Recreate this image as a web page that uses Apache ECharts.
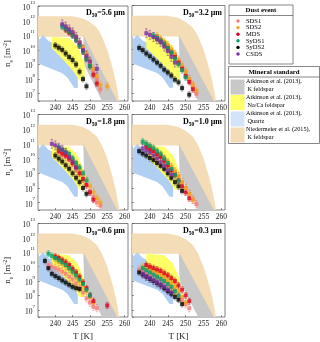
<!DOCTYPE html>
<html>
<head>
<meta charset="utf-8">
<script src="https://cdn.jsdelivr.net/npm/echarts@6.0.0/dist/echarts.min.js"></script>
<style>
  html, body { margin: 0; padding: 0; background: #fff; }
  #chart { width: 320px; height: 342px; }
</style>
</head>
<body>
<div id="chart"></div>
<script>
// dust events and their colours
const events = ['SDS1', 'SDS2', 'MDS', 'SyDS1', 'SyDS2', 'CSDS']
const eventColors = ['#f47a7a', '#f5a31c', '#d9001b', '#00a06c', '#000000', '#7a2fa0']
// error bar half width (multiplicative), per event
const errFactor = [1.8, 1.8, 1.6, 1.6, 1.6, 2.0]
// median diameters for the six panels
const d50 = ['5.6', '3.2', '1.8', '1.0', '0.6', '0.3']
const xTicks = [240, 245, 250, 255, 260]

// ns [m^-2] vs T [K], one list per panel (panel order: 5.6, 3.2, 1.8, 1.0, 0.6, 0.3 µm)
const sds1 = [
  [[244, 2.0e11], [245, 1.3e11], [246, 6.3e10], [247, 3.2e10], [248, 1.3e10], [249, 5.0e9], [250, 1.6e9], [251, 4.0e8], [252, 1.0e8], [253, 2.0e7]],
  [[243, 4.0e10], [244, 2.5e10], [245, 1.6e10], [246, 7.9e9], [247, 4.0e9], [248, 1.6e9], [249, 6.3e8], [250, 2.5e8], [251, 1.0e8], [252, 3.2e7], [253, 1.0e7]],
  [[242, 2.0e10], [243, 1.3e10], [244, 7.9e9], [245, 4.0e9], [246, 2.0e9], [247, 1.0e9], [248, 4.0e8], [249, 1.6e8], [250, 6.3e7], [251, 2.5e7], [252, 1.0e7], [253, 6.3e6]],
  [[240, 4.0e10], [241, 2.8e10], [242, 2.0e10], [243, 1.3e10], [244, 7.9e9], [245, 4.5e9], [246, 2.5e9], [247, 1.3e9], [248, 6.3e8], [249, 2.5e8], [250, 1.0e8], [251, 4.0e7], [252, 1.6e7], [253, 7.9e6]],
  [[238, 1.3e10], [239, 1.0e10], [240, 7.9e9], [241, 6.3e9], [242, 4.5e9], [243, 3.2e9], [244, 2.0e9], [245, 1.3e9], [246, 7.1e8], [247, 3.5e8], [248, 1.6e8], [249, 6.3e7], [250, 3.2e7], [251, 1.6e7], [252, 1.3e7]],
  [[237, 6.3e9], [238, 5.0e9], [239, 4.0e9], [240, 3.2e9], [241, 2.5e9], [242, 1.8e9], [243, 1.3e9], [244, 8.9e8], [245, 5.6e8], [246, 3.5e8], [247, 2.0e8], [248, 1.0e8], [249, 5.0e7], [250, 2.5e7], [251, 1.3e7]]
]
const sds2 = [
  [[243, 3.2e11], [244, 2.0e11], [245, 1.3e11], [246, 6.3e10], [247, 3.2e10], [248, 1.3e10], [249, 5.0e9], [250, 1.6e9], [251, 5.0e8], [252, 1.6e8], [253, 4.0e7], [255, 3.2e7]],
  [[242, 7.9e10], [243, 5.0e10], [244, 3.2e10], [245, 2.0e10], [246, 1.0e10], [247, 5.0e9], [248, 2.0e9], [249, 7.9e8], [250, 3.2e8], [251, 1.0e8], [252, 4.0e7], [253, 1.6e7]],
  [[241, 4.0e10], [242, 3.2e10], [243, 2.2e10], [244, 1.4e10], [245, 7.9e9], [246, 4.0e9], [247, 2.0e9], [248, 7.9e8], [249, 3.2e8], [250, 1.3e8], [251, 5.0e7], [252, 2.0e7], [253, 1.0e7]],
  [[239, 8.9e10], [240, 6.3e10], [241, 4.5e10], [242, 2.8e10], [243, 1.8e10], [244, 1.0e10], [245, 5.6e9], [246, 2.8e9], [247, 1.3e9], [248, 6.3e8], [249, 2.5e8], [250, 1.0e8], [251, 4.0e7], [252, 1.6e7]],
  [[240, 3.2e10], [241, 2.2e10], [242, 1.6e10], [243, 1.1e10], [244, 7.1e9], [245, 4.0e9], [246, 2.2e9], [247, 1.1e9], [248, 5.0e8], [249, 2.0e8], [250, 7.9e7], [251, 3.2e7]],
  [[238, 1.0e10], [239, 7.9e9], [240, 6.3e9], [241, 5.0e9], [242, 3.5e9], [243, 2.5e9], [244, 1.8e9], [245, 1.1e9], [246, 7.1e8], [247, 4.0e8], [248, 2.0e8], [249, 7.9e7], [250, 3.2e7]]
]
const mds = [
  [[243, 2.5e11], [244, 1.6e11], [245, 1.0e11], [246, 5.0e10], [247, 2.0e10], [248, 7.9e9], [249, 2.5e9], [250, 7.9e8], [251, 2.0e8], [252, 5.0e7]],
  [[242, 6.3e10], [243, 4.0e10], [244, 2.5e10], [245, 1.3e10], [246, 6.3e9], [247, 3.2e9], [248, 1.3e9], [249, 5.0e8], [250, 1.6e8], [251, 6.3e7], [252, 2.0e7]],
  [[241, 3.2e10], [242, 2.2e10], [243, 1.6e10], [244, 1.0e10], [245, 5.0e9], [246, 2.5e9], [247, 1.0e9], [248, 4.0e8], [249, 1.6e8], [250, 5.0e7], [251, 1.6e7]],
  [[239, 6.3e10], [240, 4.5e10], [241, 3.2e10], [242, 2.0e10], [243, 1.3e10], [244, 7.1e9], [245, 3.5e9], [246, 1.6e9], [247, 7.9e8], [248, 3.2e8], [249, 1.3e8], [250, 5.0e7], [251, 2.0e7]],
  [[240, 5.0e10], [241, 4.0e10], [242, 2.8e10], [243, 2.0e10], [244, 1.3e10], [245, 7.1e9], [246, 4.0e9], [247, 2.0e9], [248, 7.9e8], [249, 3.2e8], [250, 1.0e8], [251, 4.0e7], [255, 2.0e7]],
  [[239, 1.3e10], [240, 1.0e10], [241, 7.9e9], [242, 6.3e9], [243, 5.0e9], [244, 3.5e9], [245, 2.5e9], [246, 1.6e9], [247, 1.0e9], [248, 5.0e8], [249, 2.5e8], [250, 1.0e8], [251, 4.0e7]]
]
const syds1 = [
  [[242, 4.0e11], [243, 2.8e11], [244, 1.8e11], [245, 1.0e11], [246, 5.0e10], [247, 2.0e10], [248, 7.9e9], [249, 2.5e9], [250, 7.9e8]],
  [[241, 8.9e10], [242, 6.3e10], [243, 4.0e10], [244, 2.5e10], [245, 1.3e10], [246, 6.3e9], [247, 2.5e9], [248, 1.0e9], [249, 4.0e8], [250, 1.3e8]],
  [[241, 5.6e10], [242, 4.0e10], [243, 2.8e10], [244, 2.0e10], [245, 1.0e10], [246, 5.0e9], [247, 2.5e9], [248, 1.0e9], [249, 3.2e8]],
  [[238, 1.4e11], [239, 1.0e11], [240, 7.1e10], [241, 5.0e10], [242, 3.2e10], [243, 2.0e10], [244, 1.0e10], [245, 5.0e9], [246, 2.0e9], [247, 7.9e8], [248, 3.2e8]],
  [[238, 7.9e10], [239, 5.6e10], [240, 4.0e10], [241, 2.8e10], [242, 2.0e10], [243, 1.3e10], [244, 7.9e9], [245, 4.5e9], [246, 2.5e9], [247, 1.3e9], [248, 6.3e8], [249, 2.5e8], [250, 1.0e8]],
  [[238, 7.9e9], [239, 5.6e9], [240, 4.0e9], [241, 2.8e9], [242, 2.0e9], [243, 1.4e9], [244, 1.0e9], [245, 6.3e8], [246, 4.0e8], [247, 2.0e8], [248, 1.0e8]]
]
const syds2 = [
  [[240, 2.0e10], [241, 1.4e10], [242, 1.0e10], [243, 5.6e9], [244, 3.2e9], [245, 2.0e9], [246, 1.0e9], [247, 3.2e8], [248, 1.0e8], [249, 3.2e7]],
  [[237, 1.3e10], [238, 9.1e9], [239, 5.4e9], [240, 3.5e9], [241, 2.1e9], [242, 1.3e9], [243, 7.9e8], [244, 4.3e8], [245, 2.8e8], [246, 1.7e8], [247, 8.9e7], [248, 5.9e7], [249, 2.4e7], [251, 8.5e6]],
  [[240, 1.6e10], [241, 1.0e10], [242, 6.3e9], [243, 3.5e9], [244, 2.0e9], [245, 1.0e9], [246, 5.0e8], [247, 2.5e8], [248, 1.0e8], [249, 4.0e7]],
  [[237, 3.2e10], [238, 2.2e10], [239, 1.6e10], [240, 1.1e10], [241, 7.9e9], [242, 5.0e9], [243, 3.2e9], [244, 2.0e9], [245, 1.0e9], [246, 5.0e8], [247, 2.5e8], [248, 1.3e8], [249, 6.3e7]],
  [[237, 2.5e10], [238, 7.9e9], [239, 3.2e9], [240, 2.2e9], [241, 1.6e9], [242, 1.1e9], [243, 7.9e8], [244, 5.6e8], [245, 4.0e8], [246, 3.2e8], [247, 2.8e8]],
  [[237, 4.0e9], [238, 2.8e9], [239, 2.0e9], [240, 1.4e9], [241, 1.0e9], [242, 7.1e8], [243, 5.0e8], [244, 3.2e8], [245, 2.0e8], [246, 1.3e8], [247, 7.9e7], [248, 5.0e7], [249, 2.5e7]]
]
const csds = [
  [[242, 5.6e11], [243, 4.0e11], [244, 2.5e11], [245, 1.6e11], [246, 7.9e10], [247, 3.2e10], [248, 1.0e10], [249, 4.0e9], [250, 1.6e9], [252, 5.0e8]],
  [[239, 1.3e11], [240, 1.0e11], [241, 7.1e10], [242, 5.0e10], [243, 3.2e10], [244, 1.6e10], [245, 7.9e9], [246, 3.2e9], [247, 1.3e9]],
  [[239, 1.0e11], [240, 7.9e10], [241, 5.6e10], [242, 4.0e10], [243, 2.5e10], [244, 1.3e10], [245, 6.3e9], [246, 2.5e9]],
  [[238, 5.0e10], [239, 3.5e10], [240, 2.5e10], [241, 1.6e10], [242, 1.0e10], [243, 5.6e9], [244, 3.2e9], [245, 1.6e9], [246, 7.9e8]],
  [],
  [[238, 3.2e9], [239, 2.2e9], [240, 1.6e9], [241, 1.1e9], [242, 7.9e8], [243, 5.6e8], [244, 4.0e8], [245, 2.5e8], [246, 1.6e8]]
]
const eventData = [sds1, sds2, mds, syds1, syds2, csds]

// mineral standard ranges (outline of each shaded band, T [K], ns [m^-2])
const niedermeierK = [[235, 2.0e12], [245, 2.0e12], [248, 1.4e12], [250, 7.9e11], [252, 3.2e11], [253.5, 7.9e10], [255, 1.0e10], [256.5, 6.3e8], [257.5, 6.3e7], [258.5, 3.2e6], [253.5, 3.2e6], [248.2, 7.9e10], [235, 7.9e10]]
const atkinsonK = [[248.1, 1.0e11], [257.9, 3.2e6], [253.5, 3.2e6], [248.3, 1.0e9]]
const atkinsonNaCa = [[239, 7.9e10], [244, 6.3e10], [246.5, 1.6e10], [248.5, 1.0e9], [248.5, 7.9e7], [247, 7.9e7], [245, 4.0e8], [242, 2.5e9], [239, 1.3e10]]
const atkinsonQuartz = [[235.3, 5.0e10], [236.5, 1.0e11], [238, 4.0e10], [241, 2.0e10], [244, 6.3e9], [246.5, 2.5e9], [246.5, 2.5e7], [245.5, 2.5e7], [243.5, 1.3e8], [242, 2.5e8], [235.3, 1.1e9]]
const standards = [
  { name: 'Atkinson et al. (2013),', sub: 'K feldspar', verts: atkinsonK, color: '#c8c8c8' },
  { name: 'Atkinson et al. (2013),', sub: 'Na/Ca feldspar', verts: atkinsonNaCa, color: '#ffff66' },
  { name: 'Atkinson et al. (2013),', sub: 'Quartz', verts: atkinsonQuartz, color: '#b0cff2' },
  { name: 'Niedermeier et al. (2015),', sub: 'K feldspar', verts: niedermeierK, color: '#f3dcb6' }
]

const FONT = 'Liberation Serif'
const grids = []
const xAxes = []
const yAxes = []
const series = []
const graphics = []

const colLeft = [38, 132]
const colWidth = [90, 93]
const rowTop = [5.5, 114.5, 223.5]
const rowHeight = 95.5

function polygonSeries (idx, verts, color, z) {
  return {
    type: 'custom',
    xAxisIndex: idx,
    yAxisIndex: idx,
    silent: true,
    clip: true,
    z: z,
    data: verts,
    renderItem (params, api) {
      if (params.dataIndex !== 0) return null
      const pts = verts.map(v => api.coord(v))
      return { type: 'polygon', shape: { points: pts }, style: { fill: color } }
    }
  }
}

for (let p = 0; p < 6; p++) {
  const col = p % 2
  const row = Math.floor(p / 2)
  grids.push({
    left: colLeft[col],
    top: rowTop[row],
    width: colWidth[col],
    height: rowHeight,
    show: true,
    borderColor: '#4d4d4d',
    borderWidth: 0.7,
    backgroundColor: '#fff'
  })
  xAxes.push({
    type: 'value',
    gridIndex: p,
    min: 235,
    max: 261,
    interval: 5,
    name: row === 2 ? 'T [K]' : '',
    nameLocation: 'middle',
    nameGap: 15,
    nameTextStyle: { fontFamily: FONT, fontSize: 9, color: '#222' },
    axisLine: { show: false },
    axisTick: { show: true, inside: true, length: 2, lineStyle: { color: '#4d4d4d', width: 0.6 } },
    splitLine: { show: false },
    axisLabel: {
      fontFamily: FONT,
      fontSize: 7.5,
      color: '#222',
      margin: 3,
      showMinLabel: false,
      showMaxLabel: false,
      formatter: v => (xTicks.indexOf(v) >= 0 ? String(v) : '')
    }
  })
  yAxes.push({
    type: 'log',
    logBase: 10,
    gridIndex: p,
    min: 3.1623e6,
    max: 1e13,
    splitNumber: 7,
    name: col === 0 ? 'n{sub|s} [m{sup|-2}]' : '',
    nameLocation: 'middle',
    nameGap: 24,
    nameRotate: 90,
    nameTextStyle: {
      fontFamily: FONT,
      fontSize: 9,
      color: '#222',
      rich: {
        sub: { fontFamily: FONT, fontSize: 6, verticalAlign: 'bottom', lineHeight: 12 },
        sup: { fontFamily: FONT, fontSize: 6, verticalAlign: 'top', lineHeight: 12 }
      }
    },
    axisLine: { show: false },
    axisTick: { show: true, inside: true, length: 2, lineStyle: { color: '#4d4d4d', width: 0.6 } },
    splitLine: { show: false },
    axisLabel: {
      show: col === 0,
      margin: 3,
      fontFamily: FONT,
      color: '#222',
      formatter: v => {
        const e = Math.log10(v)
        if (Math.abs(e - Math.round(e)) > 0.01) return ''
        return '{b|10}{s|' + Math.round(e) + '}'
      },
      rich: {
        b: { fontFamily: FONT, fontSize: 7.5, color: '#222', lineHeight: 12, verticalAlign: 'bottom' },
        s: { fontFamily: FONT, fontSize: 5, color: '#222', lineHeight: 12, verticalAlign: 'top' }
      }
    }
  })

  // shaded mineral standards: Niedermeier first, then Atkinson K, quartz, Na/Ca
  series.push(polygonSeries(p, niedermeierK, standards[3].color, 1))
  series.push(polygonSeries(p, atkinsonK, standards[0].color, 2))
  series.push(polygonSeries(p, atkinsonQuartz, standards[2].color, 3))
  series.push(polygonSeries(p, atkinsonNaCa, standards[1].color, 4))

  // dust event points with error bars
  events.forEach((ev, k) => {
    const pts = eventData[k][p]
    const f = errFactor[k]
    const color = eventColors[k]
    series.push({
      type: 'custom',
      name: ev,
      xAxisIndex: p,
      yAxisIndex: p,
      silent: true,
      z: 5,
      data: pts.map(d => [d[0], d[1] / f, d[1] * f]),
      encode: { x: 0, y: [1, 2] },
      renderItem (params, api) {
        const lo = api.coord([api.value(0), api.value(1)])
        const hi = api.coord([api.value(0), api.value(2)])
        const w = 1.3
        const ls = { stroke: k === 4 ? '#555' : color, lineWidth: 0.6, opacity: 0.8 }
        return {
          type: 'group',
          children: [
            { type: 'line', shape: { x1: lo[0], y1: lo[1], x2: hi[0], y2: hi[1] }, style: ls },
            { type: 'line', shape: { x1: lo[0] - w, y1: lo[1], x2: lo[0] + w, y2: lo[1] }, style: ls },
            { type: 'line', shape: { x1: hi[0] - w, y1: hi[1], x2: hi[0] + w, y2: hi[1] }, style: ls }
          ]
        }
      }
    })
    series.push({
      type: 'scatter',
      name: ev,
      xAxisIndex: p,
      yAxisIndex: p,
      symbol: 'rect',
      symbolSize: 4,
      z: 6,
      itemStyle: { color: color },
      data: pts
    })
  })

  // panel label
  graphics.push({
    type: 'text',
    right: 320 - (colLeft[col] + colWidth[col]) + 3,
    top: rowTop[row] + 3,
    z: 10,
    style: {
      text: 'D{sub|50}=' + d50[p] + ' μm',
      fontFamily: FONT,
      fontSize: 8,
      fontWeight: 'bold',
      fill: '#000',
      rich: {
        sub: { fontFamily: FONT, fontSize: 5.5, fontWeight: 'bold', verticalAlign: 'bottom', lineHeight: 12 }
      }
    }
  })
}

// legend: dust events
const leg1 = { x: 229, y: 5, w: 64, h: 59 }
graphics.push({
  type: 'rect', shape: { x: leg1.x, y: leg1.y, width: leg1.w, height: leg1.h },
  style: { fill: '#fff', stroke: '#555', lineWidth: 0.7 }, z: 10
})
graphics.push({
  type: 'line', shape: { x1: leg1.x, y1: 15.5, x2: leg1.x + leg1.w, y2: 15.5 },
  style: { stroke: '#555', lineWidth: 0.7 }, z: 10
})
graphics.push({
  type: 'text', x: leg1.x + leg1.w / 2, y: 10.5, z: 11,
  style: { text: 'Dust event', fontFamily: FONT, fontSize: 6.8, fontWeight: 'bold', fill: '#000', align: 'center', verticalAlign: 'middle' }
})
events.forEach((ev, k) => {
  const y = 21 + k * 6.6
  graphics.push({ type: 'circle', shape: { cx: 238, cy: y, r: 1.7 }, style: { fill: eventColors[k] }, z: 11 })
  graphics.push({
    type: 'text', x: 246, y: y, z: 11,
    style: { text: ev, fontFamily: FONT, fontSize: 6.5, fill: '#000', verticalAlign: 'middle' }
  })
})

// legend: mineral standards
const leg2 = { x: 228.5, y: 66.5, w: 91, h: 77 }
graphics.push({
  type: 'rect', shape: { x: leg2.x, y: leg2.y, width: leg2.w, height: leg2.h },
  style: { fill: '#fff', stroke: '#555', lineWidth: 0.7 }, z: 10
})
graphics.push({
  type: 'line', shape: { x1: leg2.x, y1: 77, x2: leg2.x + leg2.w, y2: 77 },
  style: { stroke: '#555', lineWidth: 0.7 }, z: 10
})
graphics.push({
  type: 'text', x: leg2.x + leg2.w / 2, y: 72, z: 11,
  style: { text: 'Mineral standard', fontFamily: FONT, fontSize: 6.8, fontWeight: 'bold', fill: '#000', align: 'center', verticalAlign: 'middle' }
})
const legRows = [81.5, 97, 113.5, 129.5]
standards.forEach((s, k) => {
  const y = legRows[k]
  graphics.push({
    type: 'rect', shape: { x: 230.5, y: y - 2, width: 14, height: 15 },
    style: { fill: k === 2 ? '#d3e4f8' : s.color }, z: 11
  })
  graphics.push({
    type: 'text', x: 246, y: y, z: 11,
    style: { text: s.name, fontFamily: FONT, fontSize: 6.2, fill: '#000', verticalAlign: 'middle' }
  })
  graphics.push({
    type: 'text', x: 247.5, y: y + 8.3, z: 11,
    style: { text: s.sub, fontFamily: FONT, fontSize: 6.2, fill: '#000', verticalAlign: 'middle' }
  })
})

const chart = echarts.init(document.getElementById('chart'), null, { renderer: 'canvas' })
chart.setOption({
  animation: false,
  backgroundColor: '#fff',
  grid: grids,
  xAxis: xAxes,
  yAxis: yAxes,
  series: series,
  graphic: graphics
})
</script>
</body>
</html>
